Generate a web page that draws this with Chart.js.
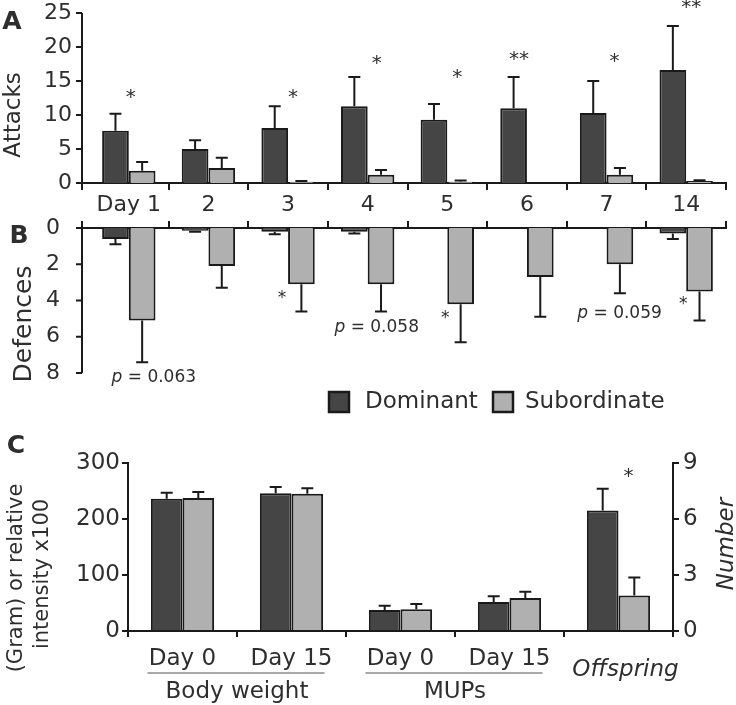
<!DOCTYPE html>
<html>
<head>
<meta charset="utf-8">
<script src="https://cdn.jsdelivr.net/npm/chart.js@4.4.1/dist/chart.umd.min.js"></script>
<style>
  html, body { margin: 0; padding: 0; background: #fff; }
  #wrap { position: relative; width: 736px; height: 705px; overflow: hidden; }
  canvas { position: absolute; left: 0; }
</style>
</head>
<body>
<div id="wrap">
  <canvas id="chartA" width="736" height="222" style="top:0px"></canvas>
  <canvas id="chartB" width="736" height="230" style="top:195px"></canvas>
  <canvas id="chartC" width="736" height="280" style="top:425px"></canvas>
</div>
<script>
// --- data ---------------------------------------------------------------
const days = ["Day 1", "2", "3", "4", "5", "6", "7", "14"];

// A: attacks (mean, SE)
const attacksDominant = [7.7, 5.0, 8.1, 11.3, 9.3, 11.0, 10.3, 16.6];
const attacksDominantSE = [2.5, 1.3, 3.2, 4.3, 2.3, 4.6, 4.7, 6.5];
const attacksSubordinate = [1.8, 2.2, 0.2, 1.2, 0.2, 0, 1.2, 0.3];
const attacksSubordinateSE = [1.3, 1.5, 0.1, 0.7, 0.15, 0, 1.0, 0.1];
const attackStars = ["*", "", "*", "*", "*", "**", "*", "**"];

// B: defences (mean, SE)
const defencesDominant = [0.6, 0.15, 0.2, 0.2, 0, 0, 0, 0.3];
const defencesDominantSE = [0.3, 0.05, 0.15, 0.1, 0, 0, 0, 0.3];
const defencesSubordinate = [5.1, 2.1, 3.1, 3.1, 4.2, 2.7, 2.0, 3.5];
const defencesSubordinateSE = [2.3, 1.2, 1.5, 1.5, 2.1, 2.2, 1.6, 1.6];
const defenceNotes = ["p = 0.063", "", "*", "p = 0.058", "*", "", "p = 0.059", "*"];

// C: body weight (g), MUPs (relative intensity x100), offspring (number)
const measures = ["Day 0", "Day 15", "Day 0", "Day 15", "Offspring"];
const groupNames = ["Body weight", "MUPs"];
const bodyMupDominant = [236, 246, 37.5, 52, null];
const bodyMupDominantSE = [11, 11, 7.5, 10, null];
const bodyMupSubordinate = [237.5, 245, 39, 59, null];
const bodyMupSubordinateSE = [10.5, 10, 9, 11, null];
const offspringDominant = [null, null, null, null, 6.45];
const offspringDominantSE = [null, null, null, null, 1.17];
const offspringSubordinate = [null, null, null, null, 1.9];
const offspringSubordinateSE = [null, null, null, null, 0.97];

// --- style --------------------------------------------------------------
const family = "'DejaVu Sans', sans-serif";
const ink = "#1a1a1a";
const textColor = "#2e2e2e";
const darkFill = "#454545";
const lightFill = "#b0b0b0";

Chart.defaults.font.family = family;
Chart.defaults.color = textColor;
Chart.defaults.animation = false;

function text(ctx, str, x, y, font, opts = {}) {
  ctx.save();
  ctx.font = font;
  ctx.fillStyle = opts.color || textColor;
  ctx.textAlign = opts.align || "center";
  ctx.textBaseline = "middle";
  ctx.translate(x, y);
  if (opts.rotate) ctx.rotate(opts.rotate);
  ctx.fillText(str, 0, 0);
  ctx.restore();
}

// "p = 0.063" with an italic p
function pText(ctx, str, cx, cy) {
  const rest = str.slice(1);
  ctx.save();
  ctx.font = "italic 17px " + family;
  const wp = ctx.measureText("p").width;
  ctx.font = "17px " + family;
  const wr = ctx.measureText(rest).width;
  const x0 = cx - (wp + wr) / 2;
  ctx.restore();
  text(ctx, "p", x0, cy, "italic 17px " + family, { align: "left" });
  text(ctx, rest, x0 + wp, cy, "17px " + family, { align: "left" });
}

function axisLines(tickLength) {
  return {
    grid: { display: true, drawOnChartArea: false, drawTicks: true, tickLength: tickLength, color: ink, lineWidth: 2 },
    border: { display: true, color: ink, width: 2 }
  };
}

// fixed box size, no extra room for overhanging tick labels
function fixWidth(w) {
  return (s) => { s.width = w; s.paddingTop = 0; s.paddingBottom = 0; };
}

function bar(label, data, errors, fill, axis) {
  return {
    label: label, data: data, errors: errors, yAxisID: axis || "y",
    backgroundColor: fill, borderColor: ink, borderWidth: 2, skipNull: true
  };
}

// error bars: one-sided, away from the baseline
const errorBars = {
  id: "errorBars",
  afterDatasetsDraw(chart) {
    const ctx = chart.ctx;
    ctx.save();
    ctx.strokeStyle = ink;
    ctx.lineWidth = 2;
    chart.data.datasets.forEach((ds, i) => {
      const meta = chart.getDatasetMeta(i);
      const scale = chart.scales[meta.yAxisID];
      meta.data.forEach((el, j) => {
        const v = ds.data[j], e = ds.errors[j];
        if (v == null || !e) return;
        const yEnd = scale.getPixelForValue(v + e);
        ctx.beginPath();
        ctx.moveTo(el.x, el.y);
        ctx.lineTo(el.x, yEnd);
        ctx.moveTo(el.x - 6, yEnd);
        ctx.lineTo(el.x + 6, yEnd);
        ctx.stroke();
      });
    });
    ctx.restore();
  }
};

// in A and B the value axis sits a little left of the first day group
const axisX = 82;
const leftAxis = {
  id: "leftAxis",
  afterDraw(chart) {
    const { ctx, scales: { x, y } } = chart;
    const atTop = x.options.position === "top";
    const base = atTop ? y.top : y.bottom;
    ctx.save();
    ctx.strokeStyle = ink;
    ctx.lineWidth = 2;
    ctx.beginPath();
    ctx.moveTo(axisX, y.top - (atTop ? 7 : 0));
    ctx.lineTo(axisX, y.bottom + (atTop ? 0 : 7));
    ctx.moveTo(axisX, base);
    ctx.lineTo(x.left, base);
    y.ticks.forEach((t, i) => {
      const py = y.getPixelForTick(i);
      ctx.moveTo(axisX - 6, py);
      ctx.lineTo(axisX, py);
    });
    ctx.stroke();
    ctx.restore();
  }
};

function valueAxis(min, max, step, pad) {
  return {
    grid: { display: false, drawTicks: true, tickLength: 6 },
    border: { display: false },
    min: min, max: max,
    ticks: { stepSize: step, font: { size: 22 }, padding: pad },
    afterFit: fixWidth(89)
  };
}

const dayAxisGrid = (len) => ({
  display: true, drawOnChartArea: false, drawTicks: true, tickLength: len, lineWidth: 2,
  color: (c) => (c.index === 0 ? "rgba(0,0,0,0)" : ink)
});

const baseOptions = {
  responsive: false,
  animation: false,
  plugins: { legend: { display: false }, tooltip: { enabled: false } }
};

// --- A: attacks ---------------------------------------------------------
const starValueA = [12.6, 0, 12.6, 17.6, 15.4, 18.1, 17.8, 25.7];
const starShiftA = [2, 0, 5, 9, 10, -8, 8, 5];
new Chart(document.getElementById("chartA"), {
  type: "bar",
  data: {
    labels: days,
    datasets: [
      bar("Dominant", attacksDominant, attacksDominantSE, darkFill),
      bar("Subordinate", attacksSubordinate, attacksSubordinateSE, lightFill)
    ]
  },
  options: {
    ...baseOptions,
    layout: { padding: { top: 13, right: 10, left: 0, bottom: 0 }, autoPadding: false },
    datasets: { bar: { categoryPercentage: 0.67, barPercentage: 1 } },
    scales: {
      x: {
        grid: dayAxisGrid(7),
        border: { display: true, color: ink, width: 2 },
        ticks: { font: { size: 22 }, padding: 2, maxRotation: 0, autoSkip: false },
        afterFit: (s) => { s.height = 39; s.paddingLeft = 0; s.paddingRight = 0; }
      },
      y: valueAxis(0, 25, 5, 11)
    }
  },
  plugins: [errorBars, leftAxis, {
    id: "panelA",
    afterDraw(chart) {
      const { ctx, scales: { x, y } } = chart;
      text(ctx, "A", 12, 22, "bold 25px " + family);
      text(ctx, "Attacks", 14, 115, "23px " + family, { rotate: -Math.PI / 2 });
      attackStars.forEach((s, i) => {
        if (s) text(ctx, s, x.getPixelForValue(i) + starShiftA[i], y.getPixelForValue(starValueA[i]), "20px " + family);
      });
    }
  }]
});

// --- B: defences --------------------------------------------------------
const noteValueB = [8.28, 0, 3.9, 5.5, 5.0, 0, 4.7, 4.25];
const noteShiftB = [25, 0, -6, 9, -2, 0, 13, -3];
new Chart(document.getElementById("chartB"), {
  type: "bar",
  data: {
    labels: days,
    datasets: [
      bar("Dominant", defencesDominant, defencesDominantSE, darkFill),
      bar("Subordinate", defencesSubordinate, defencesSubordinateSE, lightFill)
    ]
  },
  options: {
    ...baseOptions,
    layout: { padding: { top: 0, right: 10, left: 0, bottom: 52 }, autoPadding: false },
    datasets: { bar: { categoryPercentage: 0.67, barPercentage: 1 } },
    scales: {
      x: {
        grid: dayAxisGrid(7),
        border: { display: true, color: ink, width: 2 },
        position: "top",
        ticks: { display: false },
        afterFit: (s) => { s.height = 33; s.paddingLeft = 0; s.paddingRight = 0; }
      },
      y: { ...valueAxis(0, 8, 2, 23), reverse: true }
    }
  },
  plugins: [errorBars, leftAxis, {
    id: "panelB",
    afterDraw(chart) {
      const { ctx, scales: { x, y } } = chart;
      text(ctx, "B", 19, 41, "bold 25px " + family);
      text(ctx, "Defences", 24, 129, "25px " + family, { rotate: -Math.PI / 2 });
      defenceNotes.forEach((s, i) => {
        if (!s) return;
        const px = x.getPixelForValue(i) + noteShiftB[i];
        const py = y.getPixelForValue(noteValueB[i]);
        if (s === "*") text(ctx, s, px, py, "17px " + family);
        else pText(ctx, s, px, py);
      });

      // legend
      const boxes = [[329, 365], [493, 525]];
      chart.data.datasets.forEach((ds, i) => {
        const [bx, tx] = boxes[i];
        ctx.save();
        ctx.fillStyle = ds.backgroundColor;
        ctx.strokeStyle = ink;
        ctx.lineWidth = 2.5;
        ctx.fillRect(bx, 197, 20, 20);
        ctx.strokeRect(bx, 197, 20, 20);
        ctx.restore();
        text(ctx, ds.label, tx, 207, "23px " + family, { align: "left" });
      });
    }
  }]
});

// --- C: body weight, MUPs, offspring -----------------------------------
new Chart(document.getElementById("chartC"), {
  type: "bar",
  data: {
    labels: measures,
    datasets: [
      bar("Dominant", bodyMupDominant, bodyMupDominantSE, darkFill),
      bar("Subordinate", bodyMupSubordinate, bodyMupSubordinateSE, lightFill),
      bar("Dominant offspring", offspringDominant, offspringDominantSE, darkFill, "y2"),
      bar("Subordinate offspring", offspringSubordinate, offspringSubordinateSE, lightFill, "y2")
    ]
  },
  options: {
    ...baseOptions,
    layout: { padding: { top: 38, right: 0, left: 0, bottom: 0 }, autoPadding: false },
    datasets: { bar: { categoryPercentage: 0.58, barPercentage: 1 } },
    scales: {
      x: {
        ...axisLines(6),
        ticks: {
          font: { size: 23 }, padding: 8, maxRotation: 0, autoSkip: false,
          callback: function (v, i) { return i === 4 ? "" : this.getLabelForValue(v); }
        },
        afterFit: (s) => { s.height = 74; s.paddingLeft = 0; s.paddingRight = 0; }
      },
      y: {
        ...axisLines(6),
        min: 0, max: 300,
        ticks: { stepSize: 100, font: { size: 23 }, padding: 2 },
        afterFit: fixWidth(128)
      },
      y2: {
        ...axisLines(6),
        position: "right",
        min: 0, max: 9,
        ticks: { stepSize: 3, font: { size: 23 }, padding: 4 },
        afterFit: fixWidth(63)
      }
    }
  },
  plugins: [errorBars, {
    id: "panelC",
    afterDraw(chart) {
      const { ctx, scales: { x, y2 } } = chart;
      text(ctx, "C", 16, 21, "bold 25px " + family);
      text(ctx, "(Gram) or relative", 17, 153, "21px " + family, { rotate: -Math.PI / 2 });
      text(ctx, "intensity x100", 43, 149, "21px " + family, { rotate: -Math.PI / 2 });
      text(ctx, "Number", 727, 119, "italic 23px " + family, { rotate: -Math.PI / 2 });

      groupNames.forEach((name, g) => {
        const a = x.getPixelForValue(2 * g), b = x.getPixelForValue(2 * g + 1);
        ctx.save();
        ctx.strokeStyle = "#8c8c8c";
        ctx.lineWidth = 1.5;
        ctx.beginPath();
        ctx.moveTo(a - 35, 248);
        ctx.lineTo(b + 33, 248);
        ctx.stroke();
        ctx.restore();
        text(ctx, name, (a + b) / 2, 267, "23px " + family);
      });
      text(ctx, measures[4], x.getPixelForValue(4) + 7, 245, "italic 23px " + family);
      text(ctx, "*", x.getPixelForValue(4) + 10, y2.getPixelForValue(8.25), "20px " + family);
    }
  }]
});
</script>
</body>
</html>
